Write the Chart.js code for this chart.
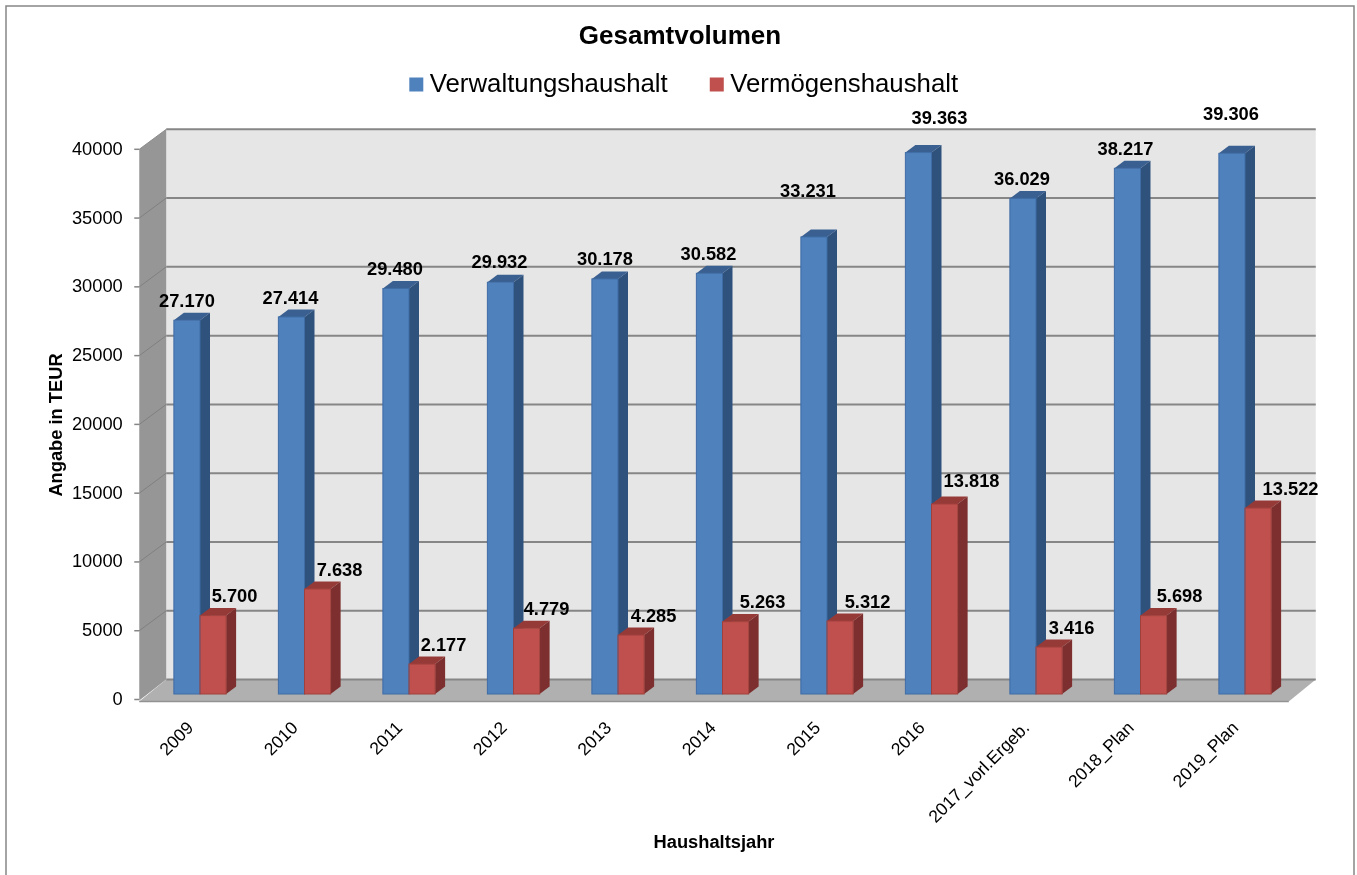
<!DOCTYPE html>
<html lang="de">
<head>
<meta charset="utf-8">
<title>Gesamtvolumen</title>
<script src="https://cdn.jsdelivr.net/npm/chart.js@4/dist/chart.umd.min.js"></script>
<style>
    html, body { margin: 0; padding: 0; background: #fff; }
    canvas { display: block; }
</style>
</head>
<body>
<canvas id="chart" width="1357" height="875"></canvas>
<script>
const categories = ['2009', '2010', '2011', '2012', '2013', '2014', '2015', '2016', '2017_vorl.Ergeb.', '2018_Plan', '2019_Plan'];
const verwaltungshaushalt = [27170, 27414, 29480, 29932, 30178, 30582, 33231, 39363, 36029, 38217, 39306];
const vermoegenshaushalt = [5700, 7638, 2177, 4779, 4285, 5263, 5312, 13818, 3416, 5698, 13522];

// Labels were dragged around by hand in the original, so each one has its own shift from the bar
const blueShiftX = [0, -1, -1, -1, 0, -1, -6, 21, -1, -2, -1];
const blueShiftY = [-19, -19, -20, -20, -20, -19, -46, -35, -19, -19, -39];
const redShiftX = [21.5, 22, 21.5, 20, 22.5, 27, 27.5, 27, 22.5, 26, 32.5];
const redShiftY = [-20, -19, -19, -19, -19, -20, -19, -23, -19, -20, -19];

const FONT = '"Liberation Sans", Arial, sans-serif';
const GREY = '#868686';

// Fake 3D: offsets from the bar plane (the chart area) to the front edge and the back wall
const FRONT = { dx: -8.5, dy: 5.5 };
const BACK = { dx: 18.5, dy: -14.5 };
const BAR_DEPTH = { dx: 10, dy: -7.5 };

function poly(ctx, points, color) {
    ctx.beginPath();
    points.forEach((p, i) => i ? ctx.lineTo(p[0], p[1]) : ctx.moveTo(p[0], p[1]));
    ctx.closePath();
    ctx.fillStyle = color;
    ctx.fill();
}

function line(ctx, x1, y1, x2, y2, color, width) {
    ctx.beginPath();
    ctx.moveTo(x1, y1);
    ctx.lineTo(x2, y2);
    ctx.strokeStyle = color;
    ctx.lineWidth = width;
    ctx.stroke();
}

const room3d = {
    id: 'room3d',
    afterLayout(chart) {
        // legend sits a bit right of centre and has a wide item gap
        chart.legend.left += 14;
        chart.legend.top -= 29;
    },
    beforeDatasetsDraw(chart) {
        const { ctx, chartArea: a, scales } = chart;
        const y = scales.y;
        const zero = y.getPixelForValue(0);
        const top = y.getPixelForValue(y.max);
        const fl = a.left + FRONT.dx, fr = a.right + FRONT.dx;
        const bl = a.left + BACK.dx, br = a.right + BACK.dx;

        ctx.save();
        // frame of the chart object
        ctx.strokeStyle = GREY;
        ctx.lineWidth = 1.5;
        ctx.strokeRect(6, 6, 1348, 900);

        // walls and floor
        poly(ctx, [[bl, top + BACK.dy], [br, top + BACK.dy], [br, zero + BACK.dy], [bl, zero + BACK.dy]], '#e6e6e6');
        poly(ctx, [[fl, top + FRONT.dy], [bl, top + BACK.dy], [bl, zero + BACK.dy], [fl, zero + FRONT.dy + 1]], '#969696');
        poly(ctx, [[fl, zero + FRONT.dy + 2], [fr, zero + FRONT.dy + 2], [br, zero + BACK.dy], [bl, zero + BACK.dy]], '#b0b0b0');

        // gridlines
        y.ticks.forEach(t => {
            const py = y.getPixelForValue(t.value);
            if (t.value > 0) {
                line(ctx, fl, py + FRONT.dy, bl, py + BACK.dy, t.value === y.max ? '#8e8e8e' : '#808080', 1);
            }
            line(ctx, bl, py + BACK.dy, br, py + BACK.dy, GREY, 2);
            line(ctx, fl - 5, py + FRONT.dy, fl, py + FRONT.dy, GREY, 1.5);
        });
        line(ctx, fl, zero + FRONT.dy + 2, fr, zero + FRONT.dy + 2, '#929292', 1.5);

        // sides and tops of the bars, blue first so the red fronts land over them
        chart.data.datasets.forEach((ds, i) => {
            chart.getDatasetMeta(i).data.forEach(bar => {
                const left = bar.x - bar.width / 2, right = bar.x + bar.width / 2;
                const d = BAR_DEPTH;
                poly(ctx, [[left, bar.y], [left + d.dx, bar.y + d.dy], [right + d.dx, bar.y + d.dy], [right, bar.y]], ds.topColor);
                poly(ctx, [[right, bar.y], [right + d.dx, bar.y + d.dy], [right + d.dx, bar.base + d.dy], [right, bar.base]], ds.sideColor);
            });
        });
        ctx.restore();
    },
    afterDatasetsDraw(chart) {
        const { ctx } = chart;
        ctx.save();

        // thin outline of the bar fronts, red last like the original
        chart.data.datasets.forEach((ds, i) => {
            chart.getDatasetMeta(i).data.forEach(bar => {
                ctx.strokeStyle = ds.edgeColor;
                ctx.lineWidth = 1;
                ctx.strokeRect(bar.x - bar.width / 2, bar.y, bar.width, bar.base - bar.y);
            });
        });

        ctx.fillStyle = '#000';
        ctx.font = 'bold 18.3px ' + FONT;
        ctx.textAlign = 'center';
        ctx.textBaseline = 'middle';

        chart.data.datasets.forEach((ds, i) => {
            chart.getDatasetMeta(i).data.forEach((bar, n) => {
                ctx.fillText(ds.data[n].toLocaleString('de-DE'), bar.x + ds.shiftX[n], bar.y + ds.shiftY[n] + 1);
            });
        });

        // axis titles, not centred on the plot in the original
        ctx.fillText('Haushaltsjahr', 714, 843);
        ctx.translate(57, 425);
        ctx.rotate(-Math.PI / 2);
        ctx.fillText('Angabe in TEUR', 0, 0);
        ctx.restore();
    }
};

new Chart(document.getElementById('chart'), {
    type: 'bar',
    data: {
        labels: categories,
        datasets: [
            {
                label: 'Verwaltungshaushalt',
                data: verwaltungshaushalt,
                xAxisID: 'x',
                yAxisID: 'y',
                backgroundColor: '#4f81bd',
                edgeColor: '#3f6ca5',
                topColor: '#3a6091',
                sideColor: '#2f527d',
                shiftX: blueShiftX,
                shiftY: blueShiftY
            },
            {
                label: 'Vermögenshaushalt',
                data: vermoegenshaushalt,
                xAxisID: 'x',
                yAxisID: 'y',
                backgroundColor: '#c0504d',
                edgeColor: '#a0403d',
                topColor: '#963a38',
                sideColor: '#7c2f2e',
                shiftX: redShiftX,
                shiftY: redShiftY
            }
        ]
    },
    options: {
        responsive: false,
        animation: false,
        layout: { padding: { left: 3 } },
        datasets: {
            bar: { categoryPercentage: 0.5, barPercentage: 1, borderWidth: 0 }
        },
        plugins: {
            title: {
                display: true,
                text: 'Gesamtvolumen',
                color: '#000',
                font: { family: FONT, size: 26, weight: 'bold' },
                padding: { top: 21, bottom: 0 }
            },
            legend: {
                display: true,
                labels: {
                    usePointStyle: true,
                    pointStyle: 'rect',
                    boxWidth: 1,
                    boxHeight: 14,
                    padding: 48.5,
                    color: '#000',
                    font: { family: FONT, size: 25.8 }
                }
            },
            tooltip: { enabled: false }
        },
        scales: {
            x: {
                type: 'category',
                position: 'bottom',
                grid: { display: false },
                border: { display: false },
                ticks: {
                    autoSkip: false,
                    minRotation: 45,
                    maxRotation: 45,
                    padding: 16,
                    labelOffset: -9,
                    color: '#000',
                    font: { family: FONT, size: 17.6 }
                },
                afterFit: s => { s.height = 181; }
            },
            y: {
                type: 'linear',
                position: 'left',
                min: 0,
                max: 40000,
                grid: { display: false },
                border: { display: false },
                ticks: {
                    stepSize: 5000,
                    padding: 17,
                    labelOffset: 6,
                    color: '#000',
                    font: { family: FONT, size: 18.3 },
                    callback: v => String(v)
                },
                afterFit: s => { s.width = 144.75; }
            },
            // empty axes, they only reserve room so the plot lands where the original has it
            spacerRight: {
                type: 'linear',
                position: 'right',
                grid: { display: false },
                border: { display: false },
                ticks: { display: false },
                afterFit: s => { s.width = 59.75; }
            },
            spacerTop: {
                type: 'linear',
                position: 'top',
                grid: { display: false },
                border: { display: false },
                ticks: { display: false },
                afterFit: s => { s.height = 7.3; }
            }
        }
    },
    plugins: [room3d]
});
</script>
</body>
</html>
